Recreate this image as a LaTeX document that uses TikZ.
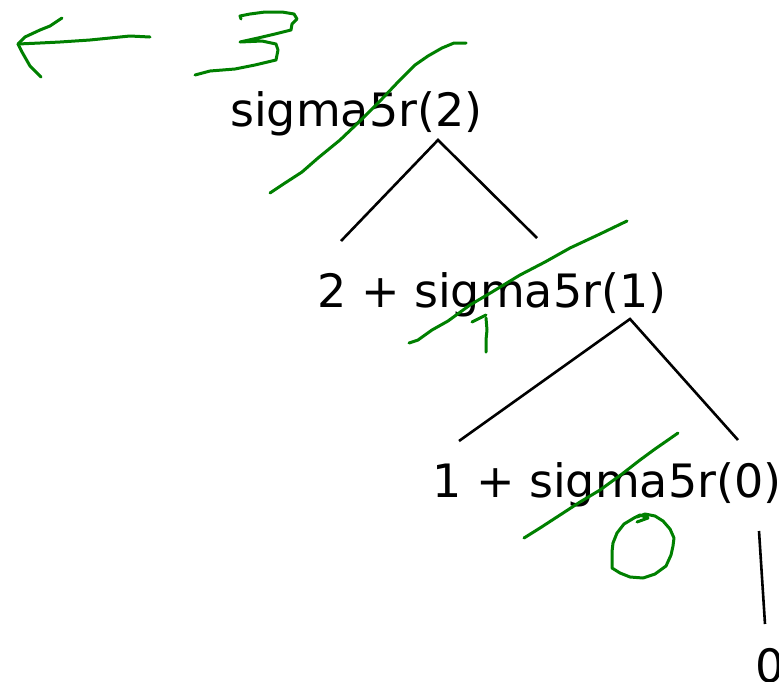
\documentclass[tikz,border=0pt]{standalone}
\usepackage{fontspec}
\setmainfont{DejaVu Sans}
\definecolor{ink}{HTML}{008000}
\begin{document}
\begin{tikzpicture}[x=1pt,y=-1pt,
  term/.style={anchor=base west,inner sep=0pt,font=\fontsize{46}{46}\selectfont},
  edge/.style={draw=black,line width=2.6pt},
  pen/.style={draw=ink,line width=3pt,line cap=round,line join=round}]
\useasboundingbox (0,0) rectangle (779,681);
\clip (0,0) rectangle (779,681);
\node[term] (t0) at (230,126) {sigma5r(2)};
\node[term] (t1) at (317,307) {2 + sigma5r(1)};
\node[term] (t2) at (432,497) {1 + sigma5r(0)};
\node[term] (t3) at (755,682) {0};
% tree edges
\coordinate (a0) at (438,140);
\coordinate (a1) at (341,241);
\coordinate (a2) at (537,238);
\coordinate (b0) at (630,319);
\coordinate (b1) at (459,441);
\coordinate (b2) at (738,440);
\coordinate (c0) at (759,531);
\coordinate (c1) at (765,624);
\draw[edge] (a1) -- (a0) -- (a2);
\draw[edge] (b1) -- (b0) -- (b2);
\draw[edge] (c0) -- (c1);
% green annotations
\draw[pen] (150,37) -- (130,36) -- (110,38) -- (90,40) -- (60,42) -- (40,43) -- (18,44);
\draw[pen] (62,18) -- (50,26) -- (40,30) -- (25,37) -- (18,44) -- (22,52) -- (26,59) -- (30,66) -- (41,77);
\draw[pen] (241,19) -- (240,16) -- (250,14) -- (265,12) -- (282,12) -- (294,14) -- (297,19) -- (292,24) -- (291,30) -- (275,34) -- (258,38) -- (240,42) -- (262,41) -- (276,44) -- (278,50) -- (276,60) -- (255,65) -- (235,69) -- (210,71) -- (195,75);
\draw[pen] (270,193) -- (285,183) -- (302,172) -- (318,158) -- (340,140) -- (360,121) -- (380,101) -- (398,82) -- (415,65) -- (428,56) -- (442,48) -- (454,43) -- (466,43);
\draw[pen] (409,343) -- (418,340) -- (432,330) -- (448,321) -- (470,305) -- (492,292) -- (520,275) -- (545,262) -- (570,248) -- (600,234) -- (627,221);
\draw[pen] (472,322) -- (480,318) -- (486,315);
\draw[pen] (486,318) -- (487,330) -- (486,340) -- (486,352);
\draw[pen] (524,538) -- (540,528) -- (560,515) -- (580,502) -- (600,490) -- (622,474) -- (640,460) -- (655,449) -- (668,440) -- (678,433);
\draw[pen] (637,517) -- (645,514) -- (655,516) -- (663,521) -- (670,529) -- (674,538) -- (673,546) -- (671,555) -- (666,566) -- (655,574) -- (643,578) -- (630,577) -- (620,573) -- (612,568) -- (612,552) -- (613,543) -- (617,533) -- (624,524) -- (634,518) -- (640,515) -- (648,518) -- (637,522);
\end{tikzpicture}
\end{document}
